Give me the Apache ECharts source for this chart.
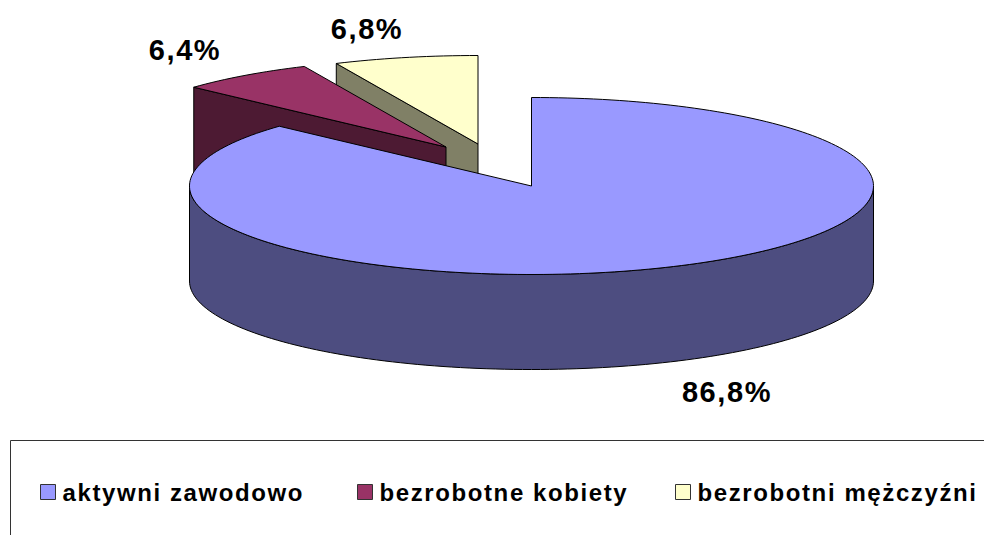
<!DOCTYPE html>
<html lang="pl">
<head>
    <meta charset="UTF-8">
    <title>Wykres</title>
    <script src="https://cdn.jsdelivr.net/npm/echarts@6/dist/echarts.min.js"></script>
    <style>
        html, body { margin: 0; width: 100%; height: 100%; background: #fff; }
        /* zrender has no letter spacing option, the svg text inherits this */
        #chart { width: 984px; height: 535px; letter-spacing: 1.6px; }
    </style>
</head>
<body>
<div id="chart"></div>
<script>
const categories = ['aktywni zawodowo', 'bezrobotne kobiety', 'bezrobotni mężczyźni'];
const shares = [86.8, 6.4, 6.8];
const shareLabels = ['86,8%', '6,4%', '6,8%'];

// layout and colours
const topColors = ['#9999ff', '#993366', '#ffffcc'];
const wallColors = ['#4d4d80', '#4d1a33', '#808066'];
const apexes = [[531.5, 186], [446, 147], [478, 144]]; // exploded slices
const labelCenters = [[727, 392], [185, 50], [367, 29]];
const legendLefts = [40, 357, 675];
const rx = 342, ry = 88.5, depth = 95;

const FONT = '"Liberation Sans", Arial, sans-serif';

// angle in degrees, clockwise from 12 o'clock
function rimPoint(apex, deg, dy) {
    const a = deg * Math.PI / 180;
    return [apex[0] + rx * Math.sin(a), apex[1] - ry * Math.cos(a) + (dy || 0)];
}

function arcPoints(apex, from, to, dy) {
    const pts = [];
    const steps = Math.max(2, Math.ceil((to - from) / 1.5));
    for (let i = 0; i <= steps; i++) {
        pts.push(rimPoint(apex, from + (to - from) * i / steps, dy));
    }
    return pts;
}

function poly(points, fill) {
    return {
        type: 'polygon',
        shape: { points: points },
        style: { fill: fill, stroke: '#000', lineWidth: 1 }
    };
}

// a radial wall shows only if the slice lies above its edge
function radialWall(apex, deg, midDeg, fill) {
    const p = rimPoint(apex, deg);
    const m = rimPoint(apex, midDeg);
    const dx = p[0] - apex[0], dy = p[1] - apex[1];
    if (Math.abs(dx) < 1) return null;
    const lineY = apex[1] + dy / dx * (m[0] - apex[0]);
    if (m[1] >= lineY) return null;
    return poly([apex, p, [p[0], p[1] + depth], [apex[0], apex[1] + depth]], fill);
}

function sliceRenderer(index) {
    return function (params, api) {
        let start = 0;
        for (let i = 0; i < index; i++) start += shares[i] * 3.6;
        const end = start + api.value(0) * 3.6;
        const mid = (start + end) / 2;
        const apex = apexes[index];
        const children = [];

        [start, end].forEach(function (deg) {
            const wall = radialWall(apex, deg, mid, wallColors[index]);
            if (wall) children.push(wall);
        });

        // front part of the rim
        const from = Math.max(start, 90), to = Math.min(end, 270);
        if (to > from) {
            children.push(poly(
                arcPoints(apex, from, to, 0).concat(arcPoints(apex, from, to, depth).reverse()),
                wallColors[index]
            ));
        }

        children.push(poly([apex].concat(arcPoints(apex, start, end, 0)), topColors[index]));

        children.push({
            type: 'text',
            z2: 10,
            style: {
                text: shareLabels[index],
                x: labelCenters[index][0],
                y: labelCenters[index][1],
                align: 'center',
                verticalAlign: 'middle',
                fill: '#000',
                font: 'bold 29px ' + FONT
            }
        });
        return { type: 'group', children: children };
    };
}

const drawOrder = [3, 2, 1];

const chart = echarts.init(document.getElementById('chart'), null, { renderer: 'svg' });
chart.setOption({
    animation: false,
    backgroundColor: '#fff',
    legend: categories.map(function (name, i) {
        return {
            data: [name],
            left: legendLefts[i],
            top: 480,
            padding: 0,
            selectedMode: false,
            icon: 'rect',
            itemWidth: 15,
            itemHeight: 15,
            itemStyle: { color: topColors[i], borderColor: '#333', borderWidth: 1 },
            textStyle: { fontFamily: FONT, fontWeight: 'bold', fontSize: 24, color: '#000', padding: [0, 0, 0, 2] }
        };
    }),
    graphic: [{
        type: 'rect',
        silent: true,
        shape: { x: 10.5, y: 440.5, width: 1000, height: 200 },
        style: { fill: 'none', stroke: '#333', lineWidth: 1 }
    }],
    series: categories.map(function (name, i) {
        return {
            type: 'custom',
            name: name,
            coordinateSystem: 'none',
            z: drawOrder[i],
            silent: true,
            itemStyle: { color: topColors[i] },
            renderItem: sliceRenderer(i),
            data: [[shares[i]]]
        };
    })
});
</script>
</body>
</html>
